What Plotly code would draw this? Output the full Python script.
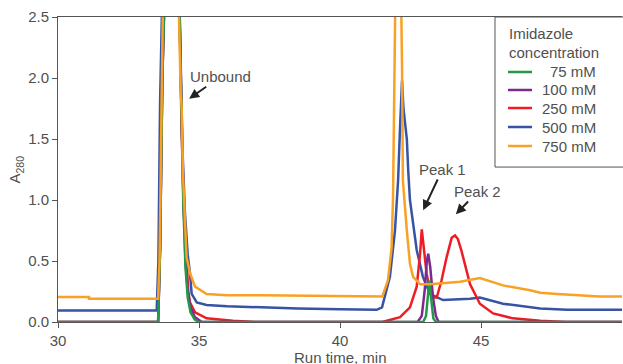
import plotly.graph_objects as go

# ---- data ----
series_names = ["75 mM", "100 mM", "250 mM", "500 mM", "750 mM"]
legend_title = "Imidazole<br>concentration"
x_title = "Run time, min"
y_title = "A<sub>280</sub>"

time_75 = [30, 33.55, 33.62, 33.7, 33.78, 34.0, 34.3, 34.36, 34.44, 34.52, 34.6, 34.7, 34.85, 35.0,
           42.95, 43.05, 43.12, 43.17, 43.22, 43.31, 43.4, 50]
a280_75 = [0, 0, 0.6, 2.0, 2.7, 3.2, 2.7, 1.9, 1.0, 0.45, 0.2, 0.08, 0.02, 0,
           0, 0.05, 0.25, 0.34, 0.22, 0.03, 0, 0]

time_100 = [30, 33.55, 33.62, 33.7, 33.78, 34.0, 34.3, 34.36, 34.44, 34.52, 34.6, 34.7, 34.85, 35.1,
            42.75, 42.9, 43.0, 43.08, 43.13, 43.2, 43.3, 43.4, 43.5, 50]
a280_100 = [0, 0, 0.6, 2.0, 2.7, 3.2, 2.7, 1.9, 1.1, 0.5, 0.25, 0.12, 0.04, 0,
            0, 0.05, 0.25, 0.5, 0.56, 0.45, 0.2, 0.05, 0, 0]

time_250 = [30, 33.55, 33.62, 33.7, 33.78, 34.0, 34.3, 34.38, 34.46, 34.55, 34.62, 34.68, 34.86, 35.27,
            36.2, 37.0, 41.5, 42.13, 42.48, 42.72, 42.84, 42.9, 42.98, 43.07, 43.19, 43.3, 43.43,
            43.6, 43.78, 43.96, 44.08, 44.18, 44.3, 44.61, 44.96, 45.43, 46.13, 47.1, 48.0, 50]
a280_250 = [0, 0, 0.6, 2.0, 2.7, 3.2, 2.7, 1.6, 0.9, 0.5, 0.25, 0.16, 0.08, 0.03,
            0.01, 0, 0, 0.04, 0.12, 0.29, 0.56, 0.76, 0.61, 0.4, 0.26, 0.2, 0.2,
            0.34, 0.53, 0.69, 0.71, 0.68, 0.59, 0.31, 0.15, 0.07, 0.03, 0.01, 0, 0]

time_500 = [30, 33.5, 33.56, 33.62, 33.7, 34.0, 34.3, 34.4, 34.5, 34.6, 34.68, 34.74, 34.92, 35.27,
            36.0, 37.16, 38.5, 40.0, 41.3, 41.49, 41.77, 41.95, 42.06, 42.13, 42.2, 42.25, 42.37,
            42.42, 42.48, 42.72, 42.94, 43.19, 43.65, 44.61, 44.96, 45.78, 46.74, 47.1, 48.05, 50]
a280_500 = [0.095, 0.095, 0.5, 1.8, 2.7, 3.2, 2.6, 1.5, 0.9, 0.55, 0.4, 0.23, 0.16, 0.14,
            0.13, 0.12, 0.11, 0.105, 0.1, 0.12, 0.37, 0.75, 1.16, 1.6, 1.98, 1.75, 1.5,
            1.24, 1.0, 0.59, 0.37, 0.23, 0.18, 0.19, 0.2, 0.15, 0.12, 0.11, 0.1, 0.1]

time_750 = [30, 31.1, 31.1, 33.55, 33.6, 33.66, 33.72, 34.0, 34.28, 34.35, 34.39, 34.43, 34.48, 34.56,
            34.68, 34.86, 35.27, 36.0, 37.2, 40.0, 41.5, 41.7, 41.83, 41.88, 41.93, 41.96, 42.06,
            42.17, 42.2, 42.23, 42.37, 42.48, 42.59, 42.84, 43.19, 44.26, 44.96, 45.78, 46.74,
            47.1, 47.7, 49.2, 50]
a280_750 = [0.205, 0.205, 0.19, 0.19, 0.5, 1.5, 2.6, 3.2, 2.6, 1.9, 1.73, 1.22, 0.89, 0.53,
            0.4, 0.29, 0.23, 0.22, 0.22, 0.21, 0.21, 0.34, 0.61, 1.02, 1.8, 2.6, 3.0,
            2.6, 2.09, 1.16, 0.75, 0.48, 0.37, 0.31, 0.31, 0.33, 0.36, 0.3, 0.26,
            0.24, 0.23, 0.21, 0.21]

x_ticks = [30, 35, 40, 45]
y_ticks = [0.0, 0.5, 1.0, 1.5, 2.0, 2.5]

colors = {"75": "#23984a", "100": "#7d2a8e", "250": "#ee1d25", "500": "#3653a4", "750": "#f8a124"}

FONT = "Liberation Sans"
TXT = "#505050"
AXC = "#555555"

fig = go.Figure()

# draw order: blue, red, purple, green, orange (orange on top)
traces = [
    ("500", time_500, a280_500, series_names[3]),
    ("250", time_250, a280_250, series_names[2]),
    ("100", time_100, a280_100, series_names[1]),
    ("75", time_75, a280_75, series_names[0]),
    ("750", time_750, a280_750, series_names[4]),
]
for key, t, a, name in traces:
    fig.add_trace(go.Scatter(
        x=t, y=a, mode="lines", name=name, showlegend=False,
        line=dict(color=colors[key], width=2.5),
    ))

fig.update_xaxes(
    range=[30, 50], tickvals=x_ticks, ticks="outside", ticklen=5, tickcolor=AXC,
    showline=True, linecolor=AXC, linewidth=1, mirror=True,
    showgrid=False, zeroline=False, automargin=False,
    tickfont=dict(size=15),
)
fig.update_yaxes(
    range=[0, 2.5], tickvals=y_ticks, tickformat=".1f", ticks="outside", ticklen=5,
    tickcolor=AXC, showline=True, linecolor=AXC, linewidth=1,
    showgrid=False, zeroline=False, automargin=False,
    tickfont=dict(size=15),
)

fig.update_layout(
    width=623, height=364,
    margin=dict(l=58, r=1, t=17, b=42),
    paper_bgcolor="white", plot_bgcolor="white",
    font=dict(family=FONT, size=15, color=TXT),
    showlegend=False,
)

# ---- axis titles placed as paper annotations ----
fig.add_annotation(xref="paper", yref="paper", x=0.5, y=-0.1164, text=x_title,
                   showarrow=False, xanchor="center", yanchor="middle",
                   font=dict(size=15, color=TXT))
fig.add_annotation(xref="paper", yref="paper", x=-0.0745, y=0.5, text=y_title,
                   showarrow=False, xanchor="center", yanchor="middle", textangle=-90,
                   font=dict(size=15, color=TXT))

# ---- legend box drawn in paper coordinates ----
fig.add_shape(type="rect", xref="paper", yref="paper", x0=0.7748, x1=1.01, y0=0.508, y1=1.0,
              line=dict(color=AXC, width=1), fillcolor="white", layer="above")
title_lines = legend_title.split("<br>")
for line_text, yp in zip(title_lines, [0.9475, 0.882]):
    fig.add_annotation(xref="paper", yref="paper", x=0.796, y=yp, text=line_text,
                       showarrow=False, xanchor="left", yanchor="middle",
                       font=dict(size=15, color=TXT))
legend_keys = ["75", "100", "250", "500", "750"]
legend_y = [0.8197, 0.7607, 0.7016, 0.6393, 0.5770]
for key, name, yp in zip(legend_keys, series_names, legend_y):
    fig.add_shape(type="line", xref="paper", yref="paper", x0=0.7979, x1=0.8404, y0=yp, y1=yp,
                  line=dict(color=colors[key], width=2.5), layer="above")
    fig.add_annotation(xref="paper", yref="paper", x=0.9575, y=yp, text=name,
                       showarrow=False, xanchor="right", yanchor="middle",
                       font=dict(size=15, color=TXT))

# ---- annotations with arrows ----
labels = [
    ("Unbound", 35.76, 2.01, 34.65, 1.83),
    ("Peak 1", 43.63, 1.25, 42.95, 0.916),
    ("Peak 2", 44.88, 1.07, 44.11, 0.883),
]
for text, tx, ty, hx, hy in labels:
    fig.add_annotation(x=hx, y=hy, ax=tx, ay=ty, axref="x", ayref="y", text=text,
                       showarrow=True, arrowhead=2, arrowsize=1, arrowwidth=2,
                       arrowcolor="#222222", standoff=0,
                       font=dict(size=15, color=TXT))

# remove the default 8px page margin so the figure sits at the window origin
fig.write_html("out.html", config={"displayModeBar": False},
               post_script="document.body.style.margin='0';")
